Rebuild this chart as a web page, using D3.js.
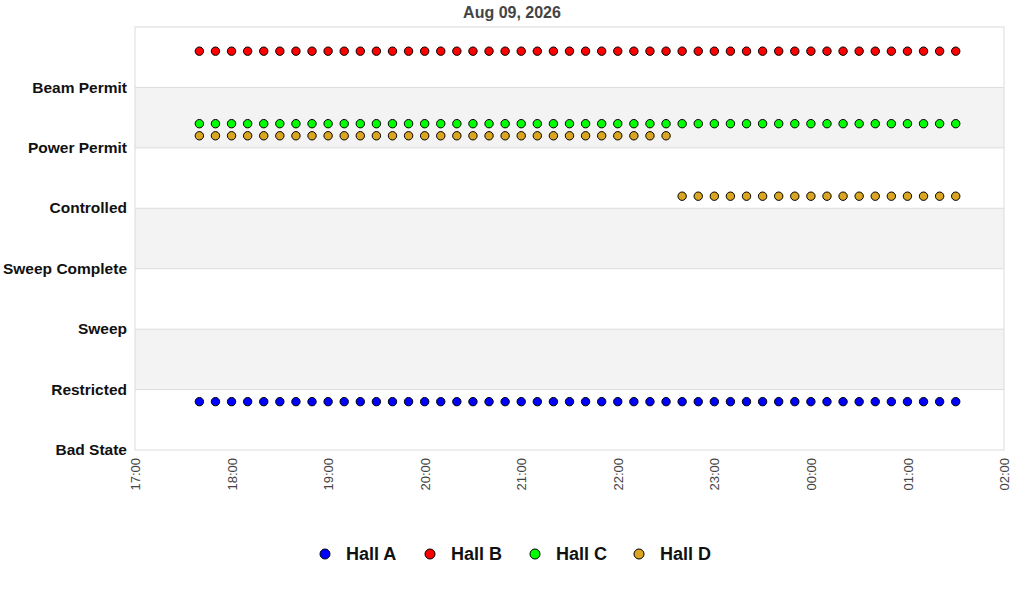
<!DOCTYPE html>
<html>
<head>
<meta charset="utf-8">
<script src="https://cdn.jsdelivr.net/npm/d3@7"></script>
<style>
  body { margin: 0; background: #fff; font-family: "Liberation Sans", Arial, sans-serif; }
</style>
</head>
<body>
<div id="chart"></div>
<script>
const TITLE = "Aug 09, 2026";
const STATE_LABELS = ["Bad State", "Restricted", "Sweep", "Sweep Complete", "Controlled", "Power Permit", "Beam Permit"];
const X_TICKS = ["2026-08-09T17:00", "2026-08-09T18:00", "2026-08-09T19:00", "2026-08-09T20:00", "2026-08-09T21:00",
  "2026-08-09T22:00", "2026-08-09T23:00", "2026-08-10T00:00", "2026-08-10T01:00", "2026-08-10T02:00"];

const TIMES = [
  "2026-08-09T17:40", "2026-08-09T17:50",
  "2026-08-09T18:00", "2026-08-09T18:10", "2026-08-09T18:20", "2026-08-09T18:30", "2026-08-09T18:40", "2026-08-09T18:50",
  "2026-08-09T19:00", "2026-08-09T19:10", "2026-08-09T19:20", "2026-08-09T19:30", "2026-08-09T19:40", "2026-08-09T19:50",
  "2026-08-09T20:00", "2026-08-09T20:10", "2026-08-09T20:20", "2026-08-09T20:30", "2026-08-09T20:40", "2026-08-09T20:50",
  "2026-08-09T21:00", "2026-08-09T21:10", "2026-08-09T21:20", "2026-08-09T21:30", "2026-08-09T21:40", "2026-08-09T21:50",
  "2026-08-09T22:00", "2026-08-09T22:10", "2026-08-09T22:20", "2026-08-09T22:30", "2026-08-09T22:40", "2026-08-09T22:50",
  "2026-08-09T23:00", "2026-08-09T23:10", "2026-08-09T23:20", "2026-08-09T23:30", "2026-08-09T23:40", "2026-08-09T23:50",
  "2026-08-10T00:00", "2026-08-10T00:10", "2026-08-10T00:20", "2026-08-10T00:30", "2026-08-10T00:40", "2026-08-10T00:50",
  "2026-08-10T01:00", "2026-08-10T01:10", "2026-08-10T01:20", "2026-08-10T01:30"
];

// plotted levels per hall (state index minus a small per-hall offset)
const HALL_A = [0.8, 0.8, 0.8, 0.8, 0.8, 0.8, 0.8, 0.8, 0.8, 0.8, 0.8, 0.8, 0.8, 0.8, 0.8, 0.8,
  0.8, 0.8, 0.8, 0.8, 0.8, 0.8, 0.8, 0.8, 0.8, 0.8, 0.8, 0.8, 0.8, 0.8, 0.8, 0.8,
  0.8, 0.8, 0.8, 0.8, 0.8, 0.8, 0.8, 0.8, 0.8, 0.8, 0.8, 0.8, 0.8, 0.8, 0.8, 0.8];
const HALL_B = [6.6, 6.6, 6.6, 6.6, 6.6, 6.6, 6.6, 6.6, 6.6, 6.6, 6.6, 6.6, 6.6, 6.6, 6.6, 6.6,
  6.6, 6.6, 6.6, 6.6, 6.6, 6.6, 6.6, 6.6, 6.6, 6.6, 6.6, 6.6, 6.6, 6.6, 6.6, 6.6,
  6.6, 6.6, 6.6, 6.6, 6.6, 6.6, 6.6, 6.6, 6.6, 6.6, 6.6, 6.6, 6.6, 6.6, 6.6, 6.6];
const HALL_C = [5.4, 5.4, 5.4, 5.4, 5.4, 5.4, 5.4, 5.4, 5.4, 5.4, 5.4, 5.4, 5.4, 5.4, 5.4, 5.4,
  5.4, 5.4, 5.4, 5.4, 5.4, 5.4, 5.4, 5.4, 5.4, 5.4, 5.4, 5.4, 5.4, 5.4, 5.4, 5.4,
  5.4, 5.4, 5.4, 5.4, 5.4, 5.4, 5.4, 5.4, 5.4, 5.4, 5.4, 5.4, 5.4, 5.4, 5.4, 5.4];
const HALL_D = [5.2, 5.2, 5.2, 5.2, 5.2, 5.2, 5.2, 5.2, 5.2, 5.2, 5.2, 5.2, 5.2, 5.2, 5.2, 5.2,
  5.2, 5.2, 5.2, 5.2, 5.2, 5.2, 5.2, 5.2, 5.2, 5.2, 5.2, 5.2, 5.2, 5.2, 4.2, 4.2,
  4.2, 4.2, 4.2, 4.2, 4.2, 4.2, 4.2, 4.2, 4.2, 4.2, 4.2, 4.2, 4.2, 4.2, 4.2, 4.2];

const HALL_NAMES = ["Hall A", "Hall B", "Hall C", "Hall D"];
const HALL_COLORS = ["#0000ff", "#ff0000", "#00ff00", "#daa520"];

const W = 1024, H = 600;
const margin = { top: 27, right: 20, bottom: 150, left: 135 };
const width = W - margin.left - margin.right,
      height = H - margin.top - margin.bottom;

const parse = d3.timeParse("%Y-%m-%dT%H:%M");

const svg = d3.select("#chart").append("svg")
  .attr("width", W).attr("height", H);

const g = svg.append("g")
  .attr("transform", `translate(${margin.left},${margin.top})`);

const x = d3.scaleTime()
  .domain([parse(X_TICKS[0]), parse(X_TICKS[X_TICKS.length - 1])])
  .range([0, width]);

const y = d3.scaleLinear()
  .domain([0, 7])
  .range([height, 0]);

// alternating bands
g.selectAll("rect.band")
  .data(d3.range(0, 7))
  .join("rect")
  .attr("class", "band")
  .attr("x", 0)
  .attr("width", width)
  .attr("y", d => y(d + 1))
  .attr("height", d => y(d) - y(d + 1))
  .attr("fill", d => d % 2 === 1 ? "#f3f3f3" : "#ffffff");

// gridlines
g.selectAll("line.grid")
  .data(d3.range(1, 7))
  .join("line")
  .attr("class", "grid")
  .attr("x1", 0).attr("x2", width)
  .attr("y1", d => y(d)).attr("y2", d => y(d))
  .attr("stroke", "#dcdcdc");

// frame
g.append("rect")
  .attr("width", width).attr("height", height)
  .attr("fill", "none")
  .attr("stroke", "#dcdcdc");

// y axis labels
const yAxis = g.append("g")
  .call(d3.axisLeft(y).tickValues(d3.range(0, 7)).tickSize(0).tickPadding(8)
    .tickFormat(d => STATE_LABELS[d]));
yAxis.select(".domain").remove();
yAxis.selectAll("text")
  .attr("font-family", "'Liberation Sans', Arial, sans-serif")
  .attr("font-size", 15.5)
  .attr("font-weight", "bold")
  .attr("fill", "#111")
  .attr("dy", "0.3em");

// x axis
const xAxis = g.append("g")
  .attr("transform", `translate(0,${height})`)
  .call(d3.axisBottom(x).tickValues(X_TICKS.map(parse)).tickSize(0)
    .tickFormat(d3.timeFormat("%H:%M")));
xAxis.select(".domain").remove();
xAxis.selectAll("text")
  .attr("font-family", "'Liberation Sans', Arial, sans-serif")
  .attr("font-size", 13)
  .attr("fill", "#444")
  .attr("transform", "rotate(-90)")
  .attr("text-anchor", "end")
  .attr("x", -8)
  .attr("y", 0)
  .attr("dy", "0.35em");

// points
const series = [HALL_A, HALL_B, HALL_C, HALL_D];
series.forEach((vals, i) => {
  g.append("g").selectAll("circle")
    .data(vals.map((v, j) => ({ t: parse(TIMES[j]), v })))
    .join("circle")
    .attr("cx", d => x(d.t))
    .attr("cy", d => y(d.v))
    .attr("r", 4.2)
    .attr("fill", HALL_COLORS[i])
    .attr("stroke", "#000")
    .attr("stroke-width", 1);
});

// title
svg.append("text")
  .attr("x", W / 2).attr("y", 18)
  .attr("text-anchor", "middle")
  .attr("font-family", "'Liberation Sans', Arial, sans-serif")
  .attr("font-size", 16)
  .attr("font-weight", "bold")
  .attr("fill", "#444")
  .text(TITLE);

// legend
const legendX = [325, 430, 535, 639];
const legend = svg.append("g").selectAll("g")
  .data(HALL_NAMES)
  .join("g")
  .attr("transform", (d, i) => `translate(${legendX[i]},554)`);
legend.append("circle")
  .attr("r", 5)
  .attr("fill", (d, i) => HALL_COLORS[i])
  .attr("stroke", "#000");
legend.append("text")
  .attr("x", 21)
  .attr("dy", "0.35em")
  .attr("font-family", "'Liberation Sans', Arial, sans-serif")
  .attr("font-size", 18)
  .attr("font-weight", "bold")
  .attr("fill", "#111")
  .text(d => d);
</script>
</body>
</html>
